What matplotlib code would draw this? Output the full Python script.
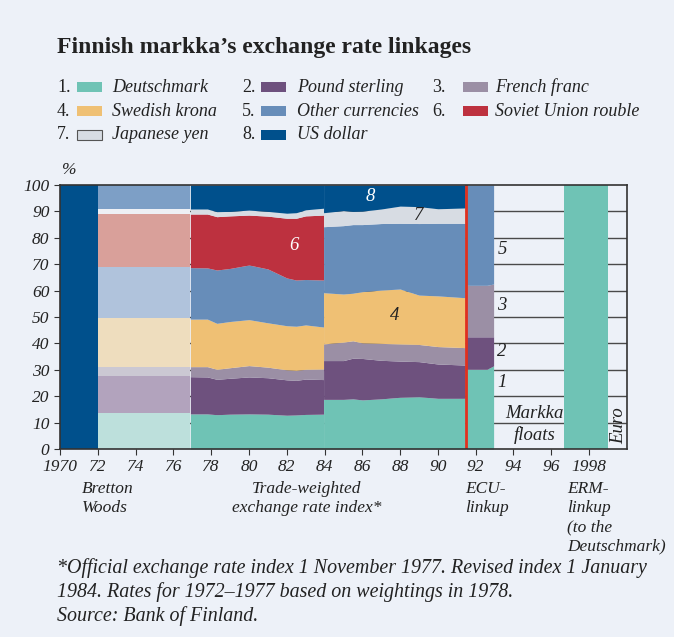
import numpy as np
import matplotlib.pyplot as plt

# colours: full and faded (1972-77 weightings) versions
full = ['#6fc3b5', '#6e517e', '#9b8fa5', '#efc074', '#678db9', '#bd313f', '#d7dce3', '#00508c']
faded = ['#bde0dc', '#b2a3bd', '#cbc8d3', '#eeddbe', '#b0c3dc', '#d9a09a', '#eef0f5', '#7d9fc6']
names = ['Deutschmark', 'Pound sterling', 'French franc', 'Swedish krona',
         'Other currencies', 'Soviet Union rouble', 'Japanese yen', 'US dollar']
bg = '#edf1f8'

# upper edges of the stacked bands (cumulative %), order: DM, GBP, FRF, SEK, other, SUR, JPY, USD
# Bretton Woods: dollar only
bw_x = [1970, 1972]
# 1972-1977 based on 1978 weightings
w72_x = [1972, 1976.9]
w72_tops = [13.5, 27.5, 31.0, 49.5, 69.0, 89.0, 91.0, 100]

# trade-weighted index 1977-1984
t1_x = [1976.9, 1977.8, 1978.3, 1979, 1980, 1981, 1982, 1982.5, 1983, 1983.95]
t1_dm = [13.3, 13.3, 13.0, 13.2, 13.3, 13.2, 12.8, 12.9, 13.1, 13.2]
t1_gbp = [27.4, 27.3, 26.4, 26.8, 27.3, 27.0, 26.2, 26.0, 26.5, 26.3]
t1_frf = [31.2, 31.2, 30.2, 30.8, 31.6, 31.0, 30.0, 29.8, 30.2, 30.3]
t1_sek = [49.2, 49.2, 47.6, 48.3, 49.0, 47.8, 46.7, 46.5, 47.0, 46.2]
t1_oth = [68.7, 68.6, 67.8, 68.4, 69.7, 68.2, 64.8, 64.0, 64.2, 64.0]
t1_sur = [89.0, 89.0, 88.0, 88.3, 88.6, 88.2, 87.4, 87.4, 88.3, 88.6]
t1_jpy = [90.9, 90.9, 89.9, 90.0, 90.5, 90.0, 89.3, 89.5, 90.6, 91.2]

# revised index 1984-1991
t2_x = [1983.95, 1985, 1985.5, 1986, 1987, 1988, 1989, 1990, 1991.45]
t2_dm = [18.8, 18.8, 19.0, 18.6, 19.0, 19.6, 19.8, 19.2, 19.2]
t2_gbp = [33.5, 33.5, 34.4, 34.3, 33.6, 33.3, 33.1, 32.2, 31.8]
t2_frf = [39.8, 40.5, 41.0, 40.2, 40.0, 39.8, 39.6, 38.8, 38.4]
t2_sek = [59.2, 58.7, 59.0, 59.6, 60.2, 60.6, 58.3, 58.0, 57.3]
t2_oth = [84.2, 84.6, 85.0, 85.0, 85.4, 85.5, 85.4, 85.5, 85.5]
t2_jpy = [89.5, 90.3, 90.0, 90.1, 90.9, 92.0, 91.8, 91.0, 91.3]

# ECU linkup
ecu_x = [1991.5, 1992.6, 1992.95]
ecu_dm = [30.2, 30.2, 31.5]
ecu_gbp = [42.5, 42.5, 42.5]
ecu_frf = [62.0, 62.0, 62.5]

# ERM linkup
erm_x = [1996.7, 1999.0]

plt.rcParams['font.family'] = ['Liberation Serif', 'DejaVu Serif']
fig = plt.figure(figsize=(6.74, 6.37), dpi=100, facecolor=bg)
ax = fig.add_axes([0.089, 0.2951, 0.841, 0.4145], facecolor=bg)

for y in range(10, 100, 10):
    ax.axhline(y, color='#4a4a4a', lw=1.0, zorder=0)


def stack(x, tops, cols):
    lower = np.zeros(len(x))
    for t, c in zip(tops, cols):
        t = np.asarray(t, dtype=float) * np.ones(len(x))
        ax.fill_between(x, lower, t, color=c, lw=0, zorder=2)
        lower = t


stack(bw_x, [100], [full[7]])
stack(w72_x, w72_tops, faded)
stack(t1_x, [t1_dm, t1_gbp, t1_frf, t1_sek, t1_oth, t1_sur, t1_jpy, 100], full)
stack(t2_x, [t2_dm, t2_gbp, t2_frf, t2_sek, t2_oth, t2_jpy, 100],
      [full[0], full[1], full[2], full[3], full[4], full[6], full[7]])
stack(ecu_x, [ecu_dm, ecu_gbp, ecu_frf, 100], [full[0], full[1], full[2], full[4]])
stack(erm_x, [100], [full[0]])
ax.axvline(1991.5, color='#e0301e', lw=2, zorder=3)

ax.set_xlim(1970, 2000)
ax.set_ylim(0, 100)
xt = list(range(1970, 1999, 2))
ax.set_xticks(xt)
ax.set_xticklabels([str(v) if v in (1970, 1998) else str(v)[2:] for v in xt])
ax.set_yticks(range(0, 101, 10))
ax.tick_params(axis='both', direction='out', length=4, color='#333333', labelsize=12.5,
               labelcolor='#222222')
for lab in ax.get_xticklabels() + ax.get_yticklabels():
    lab.set_style('italic')
for s in ax.spines.values():
    s.set_color('#333333')
    s.set_linewidth(1.2)
    s.set_zorder(5)

itext = dict(style='italic', fontsize=13.5, ha='center', va='center', zorder=6)
ax.text(1986.4, 95.5, '8', color='white', **itext)
ax.text(1989.0, 88.6, '7', color='#222222', **itext)
ax.text(1982.4, 77.0, '6', color='white', **itext)
ax.text(1987.7, 50.5, '4', color='#222222', **itext)
for lab, yy in zip(['5', '3', '2', '1'], [75.4, 54.5, 36.9, 25.1]):
    ax.text(1993.15, yy, lab, color='#222222', style='italic', fontsize=13.5,
            ha='left', va='center', zorder=6)
ax.text(1995.1, 13.5, 'Markka', color='#222222', **itext)
ax.text(1995.1, 5.3, 'floats', color='#222222', **itext)
ax.text(1999.55, 9, 'Euro', color='#222222', style='italic', fontsize=13.5,
        rotation=90, ha='center', va='center', zorder=6)

# text around the chart (figure pixel coordinates)
W, H = 674, 637


def ftext(x, y, s, **kw):
    fig.text(x / W, 1 - y / H, s, **kw)


ftext(57, 47, 'Finnish markka\u2019s exchange rate linkages', fontsize=17,
      fontweight='bold', color='#222222', va='center')
ftext(62, 170, '%', fontsize=12.5, style='italic', color='#222222', va='center')

cols_x = [(57, 77, 112), (242, 261, 297), (432, 463, 495)]
rows_y = [87, 111, 135]
for i, nm in enumerate(names):
    r, c = divmod(i, 3)
    nx, bx, tx = cols_x[c]
    yy = rows_y[r]
    ftext(nx, yy, f'{i + 1}.', fontsize=13, color='#222222', va='center')
    ec = '#555555' if i == 6 else 'none'
    fig.patches.append(plt.Rectangle((bx / W, 1 - (yy + 5) / H), 25 / W, 10 / H,
                                     transform=fig.transFigure, fc=full[i], ec=ec,
                                     lw=0.8, figure=fig))
    ftext(tx, yy, nm, fontsize=13, style='italic', color='#222222', va='center')

ltext = dict(fontsize=12.5, style='italic', color='#222222', va='top', linespacing=1.25)
ftext(108, 481, 'Bretton\nWoods', ha='center', multialignment='left', **ltext)
ftext(307, 481, 'Trade-weighted\nexchange rate index*', ha='center', **ltext)
ftext(465, 481, 'ECU-\nlinkup', ha='left', **ltext)
ftext(567, 481, 'ERM-\nlinkup\n(to the\nDeutschmark)', ha='left', **ltext)

ftext(57, 592, '*Official exchange rate index 1 November 1977. Revised index 1 January\n'
      '1984. Rates for 1972\u20131977 based on weightings in 1978.\n'
      'Source: Bank of Finland.', fontsize=14.4, style='italic', color='#222222',
      va='center', linespacing=1.3)

fig.savefig('out.png', dpi=100, facecolor=bg)
